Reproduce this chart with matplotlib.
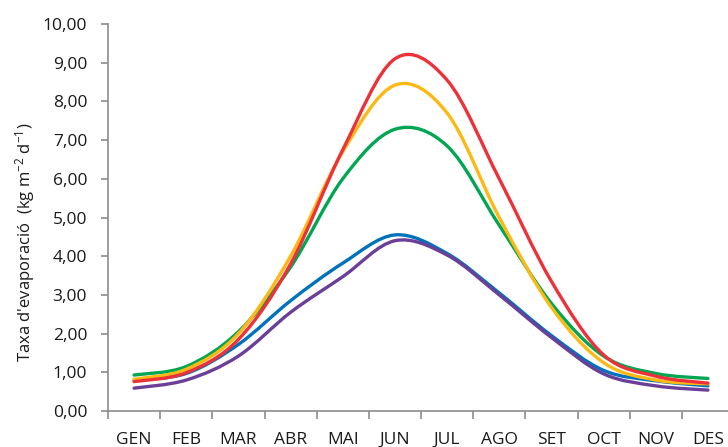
import matplotlib
matplotlib.use("Agg")
import matplotlib.pyplot as plt
from matplotlib.path import Path
from matplotlib.patches import PathPatch
import numpy as np

months = ["GEN", "FEB", "MAR", "ABR", "MAI", "JUN", "JUL", "AGO", "SET", "OCT", "NOV", "DES"]

serie_blava = [0.80, 0.97, 1.72, 2.85, 3.82, 4.55, 4.07, 3.05, 1.95, 1.05, 0.78, 0.65]
serie_lila = [0.59, 0.80, 1.42, 2.55, 3.47, 4.40, 4.03, 3.00, 1.90, 0.96, 0.65, 0.54]
serie_verda = [0.93, 1.15, 2.05, 3.72, 6.00, 7.28, 6.85, 4.80, 2.78, 1.42, 0.97, 0.84]
serie_taronja = [0.82, 1.08, 2.00, 4.00, 6.70, 8.42, 7.70, 5.00, 2.68, 1.25, 0.80, 0.70]
serie_vermella = [0.76, 0.99, 1.85, 3.80, 6.75, 9.10, 8.55, 6.00, 3.35, 1.45, 0.90, 0.72]

yticks = [0, 1, 2, 3, 4, 5, 6, 7, 8, 9, 10]
ytick_labels = ["0,00", "1,00", "2,00", "3,00", "4,00", "5,00", "6,00", "7,00", "8,00", "9,00", "10,00"]

series = [
    (serie_blava, "#0072BC"),
    (serie_lila, "#6B3F98"),
    (serie_verda, "#00A651"),
    (serie_taronja, "#FDB913"),
    (serie_vermella, "#EC3238"),
]

plt.rcParams['font.family'] = ['Open Sans', 'DejaVu Sans']
plt.rcParams['mathtext.fontset'] = 'custom'
plt.rcParams['mathtext.rm'] = 'Open Sans'
plt.rcParams['mathtext.it'] = 'Open Sans'

W, H = 728, 447
fig = plt.figure(figsize=(W / 100, H / 100), dpi=100)
ax = fig.add_axes([108 / W, 36 / H, 626 / W, 387 / H])


def smooth_path(xs, ys):
    pts = np.column_stack([xs, ys]).astype(float)
    n = len(pts)
    verts = [pts[0]]
    codes = [Path.MOVETO]
    for i in range(n - 1):
        p0 = pts[max(i - 1, 0)]
        p1 = pts[i]
        p2 = pts[i + 1]
        p3 = pts[min(i + 2, n - 1)]
        c1 = p1 + (p2 - p0) / 6.0
        c2 = p2 - (p3 - p1) / 6.0
        verts += [c1, c2, p2]
        codes += [Path.CURVE4] * 3
    return Path(verts, codes)


x = np.arange(len(months))
for vals, col in series:
    patch = PathPatch(smooth_path(x, vals), facecolor="none", edgecolor=col,
                      lw=2.4, capstyle="round", joinstyle="round")
    ax.add_patch(patch)

ax.set_xlim(-0.5, 11.5)
ax.set_ylim(0, 10)
ax.set_yticks(yticks)
ax.set_yticklabels(ytick_labels)
ax.set_xticks(np.arange(len(months)))
ax.set_xticklabels(months)
ax.set_xticks(np.arange(len(months)) - 0.5, minor=True)

for s in ["top", "right"]:
    ax.spines[s].set_visible(False)
for s in ["left", "bottom"]:
    ax.spines[s].set_color("#8C8C8C")
    ax.spines[s].set_linewidth(1.2)

ax.tick_params(axis="x", which="major", length=0, pad=15, labelsize=12.5, colors="#1a1a1a")
ax.tick_params(axis="x", which="minor", length=6, width=1.2, color="#8C8C8C")
ax.tick_params(axis="y", length=5, width=1.2, color="#8C8C8C", pad=10,
               labelsize=12.5, labelcolor="#1a1a1a")

fig.text(25 / W, 1 - 242 / H, r"Taxa d'evaporació  (kg m$^{-2}$ d$^{-1}$)",
         rotation=90, ha="center", va="center", fontsize=12, color="#1a1a1a")

fig.savefig("out.png", dpi=100)
